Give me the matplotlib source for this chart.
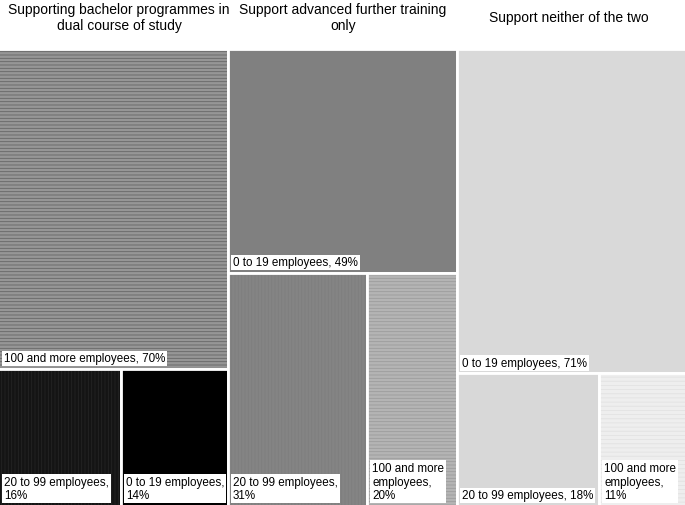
import matplotlib.pyplot as plt
from matplotlib.patches import Rectangle

plt.rcParams['font.family'] = ['Liberation Sans', 'DejaVu Sans']

# Titols de cada columna
grups = ["Supporting bachelor programmes in\ndual course of study",
         "Support advanced further training\nonly",
         "Support neither of the two"]
centre_titol = [119, 343, 569]  # px

# Bloc superior de cada columna (etiqueta, percentatge)
etiq_sup = ["100 and more employees", "0 to 19 employees", "0 to 19 employees"]
pct_sup = [70, 49, 71]

# Dos blocs inferiors de cada columna (esquerra, dreta)
etiq_inf = [["20 to 99 employees,\n16%", "0 to 19 employees,\n14%"],
            ["20 to 99 employees,\n31%", "100 and more\nemployees,\n20%"],
            ["20 to 99 employees, 18%", "100 and more\nemployees,\n11%"]]
pct_inf = [[16, 14], [31, 20], [18, 11]]

# colors: (farciment, color de ratlles, patro)
estil_sup = [("#969696", "#666666", "-----"), ("#808080", None, None), ("#d9d9d9", None, None)]
estil_inf = [[("#141414", "#242424", "|||||"), ("#000000", None, None)],
             [("#848484", "#7e7e7e", "|||||"), ("#b4b4b4", "#9c9c9c", "-----")],
             [("#d8d8d8", None, None), ("#eeeeee", "#e2e2e2", "----")]]


def dibuixa_bloc(ax, x, y, w, h, estil, text):
    '''Dibuixa un rectangle amb la seva textura i la seva etiqueta a baix a l'esquerra.'''
    fons, ratlla, patro = estil
    ax.add_patch(Rectangle((x, y), w, h, facecolor=fons, edgecolor=ratlla or fons,
                           hatch=patro, lw=0))
    ax.add_patch(Rectangle((x, y), w, h, fill=False, edgecolor="white", lw=2))
    ax.text(x + 0.022, y + 1.0, text, ha="left", va="bottom", fontsize=8.4,
            linespacing=1.2, color="black",
            bbox=dict(facecolor="white", edgecolor="none", pad=1.3))


fig = plt.figure(figsize=(6.85, 5.06), dpi=100)
ax = fig.add_axes([0, 0, 1, 456 / 506])
plt.rcParams['hatch.linewidth'] = 0.6

for i in range(3):
    top = pct_sup[i]
    dibuixa_bloc(ax, i, 100 - top, 1, top, estil_sup[i], f"{etiq_sup[i]}, {top}%")
    resta = 100 - top
    esq, dre = pct_inf[i]
    w_esq = esq / (esq + dre)
    dibuixa_bloc(ax, i, 0, w_esq, resta, estil_inf[i][0], etiq_inf[i][0])
    dibuixa_bloc(ax, i + w_esq, 0, 1 - w_esq, resta, estil_inf[i][1], etiq_inf[i][1])
    fig.text(centre_titol[i] / 685, 1 - 18 / 506, grups[i], ha="center", va="center",
             fontsize=10, linespacing=1.2)

# les vores exteriors queden tocant el marge
ax.set_xlim(3 / 685, 3 - 3 / 685)
ax.set_ylim(100 / 456, 100)
ax.axis("off")

fig.savefig("out.png", dpi=100)
